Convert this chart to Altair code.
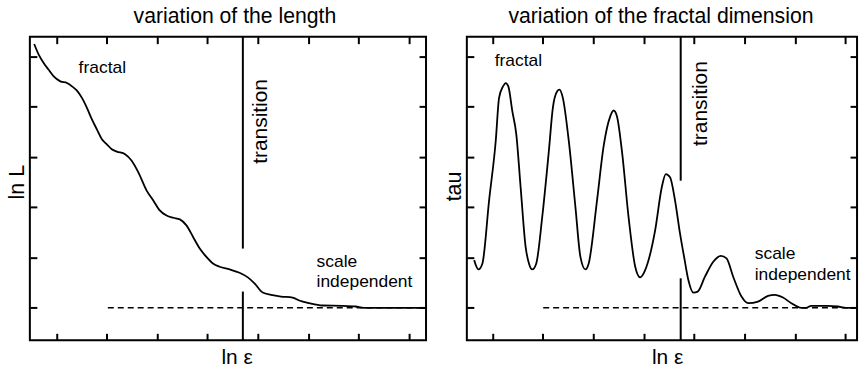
import altair as alt
import pandas as pd

FONT = "Liberation Sans"

# ln L against ln epsilon
len_x = [0.559, 0.651, 0.750, 0.848, 0.947, 1.079, 1.211, 1.310, 1.408, 1.507,
         1.606, 1.705, 1.804, 1.903, 2.001, 2.100, 2.199, 2.364, 2.495, 2.627,
         2.792, 2.924, 3.042, 3.187, 3.319, 3.451, 3.582, 3.714, 3.846, 3.978,
         4.109, 4.241, 4.439, 4.636, 4.801, 4.933, 5.097, 5.262, 5.460, 5.690,
         5.822, 6.020, 6.283, 6.679, 6.942, 7.107, 8.339]
len_y = [5.250, 5.033, 4.868, 4.736, 4.605, 4.506, 4.473, 4.407, 4.321, 4.177,
         3.979, 3.748, 3.551, 3.353, 3.254, 3.155, 3.109, 3.057, 2.925, 2.694,
         2.332, 2.134, 1.950, 1.838, 1.792, 1.759, 1.640, 1.410, 1.179, 1.014,
         0.883, 0.817, 0.764, 0.698, 0.606, 0.487, 0.303, 0.257, 0.224, 0.204,
         0.145, 0.092, 0.046, 0.040, 0.026, 0.000, 0.000]

# tau (local fractal dimension) against ln epsilon
tau_x = [0.638, 0.723, 0.802, 0.934, 1.066, 1.132, 1.211, 1.264, 1.316, 1.395,
         1.474, 1.560, 1.659, 1.725, 1.791, 1.870, 1.988, 2.120, 2.199, 2.285,
         2.331, 2.397, 2.515, 2.647, 2.746, 2.845, 2.910, 3.075, 3.207, 3.339,
         3.404, 3.470, 3.569, 3.701, 3.833, 3.931, 4.030, 4.228, 4.360, 4.439,
         4.524, 4.623, 4.722, 4.808, 4.887, 4.986, 5.071, 5.216, 5.381, 5.532,
         5.644, 5.776, 5.941, 6.072, 6.270, 6.468, 6.600, 6.764, 6.929, 7.126,
         7.225, 7.324, 7.653, 7.851, 8.016, 8.213]
tau_y = [0.949, 0.764, 0.883, 2.134, 3.320, 4.177, 4.407, 4.473, 4.407, 3.913,
         3.452, 2.398, 1.212, 0.883, 0.764, 0.883, 1.805, 3.123, 3.979, 4.308,
         4.341, 4.177, 3.320, 2.003, 1.014, 0.764, 0.883, 2.134, 3.221, 3.814,
         3.926, 3.814, 3.123, 1.805, 0.817, 0.606, 0.751, 1.542, 2.398, 2.661,
         2.596, 2.134, 1.476, 0.982, 0.553, 0.303, 0.323, 0.619, 0.916, 1.034,
         0.982, 0.619, 0.224, 0.092, 0.125, 0.237, 0.257, 0.204, 0.092, 0.000,
         0.000, 0.040, 0.040, 0.026, 0.000, 0.000]

tick_x = [1, 2, 3, 4, 5, 6, 7, 8]
tick_y = [0, 1, 2, 3, 4, 5]
dom_y = [-0.646, 5.395]

len_dom_x = [0.473, 8.339]
tau_dom_x = [0.493, 8.233]

# transition marker: x position, and the gap left open around the curve
len_transition = 4.702
len_gap = [0.323, 1.179]
tau_transition = 4.735
tau_gap = [0.587, 2.53]

# start of the dashed asymptote (scale independent level)
len_dash_start = 2.021
tau_dash_start = 2.008

len_notes = ["fractal", "scale\nindependent"]
len_notes_x = [1.441, 6.165]
len_notes_y = [4.664, 0.817]
tau_notes = ["fractal", "scale\nindependent"]
tau_notes_x = [1.046, 6.204]
tau_notes_y = [4.802, 0.962]

len_rot = (5.19, 2.866)
tau_rot = (5.249, 3.221)


def tick_axis(orient, values):
    return alt.Axis(orient=orient, values=values, domain=False, labels=False,
                    grid=False, ticks=True, tickSize=7, tickWidth=2,
                    tickColor="black", offset=-7, title=None)


def panel(xs, ys, dom_x, trans_x, gap, dash_start, notes, notes_x, notes_y,
          rot, ylabel, ylabel_y, xlabel_x, title, title_dx, width):
    sx = alt.Scale(domain=dom_x, nice=False, zero=False)
    sy = alt.Scale(domain=dom_y, nice=False, zero=False)

    x_axis = alt.Axis(orient="bottom", values=tick_x, domain=False, labels=False,
                      grid=False, ticks=True, tickSize=7, tickWidth=2,
                      tickColor="black", offset=-7, title="ln ε",
                      titleFont=FONT, titleFontSize=21, titleFontWeight="normal",
                      titleColor="black", titleBaseline="alphabetic",
                      titleAlign="center", titleX=xlabel_x, titleY=30.3)
    y_axis = alt.Axis(orient="left", values=tick_y, domain=False, labels=False,
                      grid=False, ticks=True, tickSize=7, tickWidth=2,
                      tickColor="black", offset=-7, title=ylabel,
                      titleFont=FONT, titleFontSize=21.5, titleFontWeight="normal",
                      titleColor="black", titleBaseline="alphabetic",
                      titleAlign="center", titleAngle=270,
                      titleX=-13, titleY=ylabel_y)

    curve = alt.Chart(pd.DataFrame({"x": xs, "y": ys})).mark_line(
        color="black", strokeWidth=1.8, interpolate="monotone"
    ).encode(
        x=alt.X("x:Q", scale=sx, axis=x_axis),
        y=alt.Y("y:Q", scale=sy, axis=y_axis),
    )

    dash = alt.Chart(pd.DataFrame({"x": [dash_start], "x2": [dom_x[1]], "y": [0]})).mark_rule(
        color="black", strokeWidth=1.5, strokeDash=[6, 4]
    ).encode(
        x=alt.X("x:Q", scale=sx, axis=tick_axis("top", tick_x)),
        x2="x2:Q",
        y=alt.Y("y:Q", scale=sy, axis=tick_axis("right", tick_y)),
    )

    trans = alt.Chart(pd.DataFrame({
        "x": [trans_x, trans_x],
        "y": [dom_y[0], gap[1]],
        "y2": [gap[0], dom_y[1]],
    })).mark_rule(color="black", strokeWidth=2).encode(
        x=alt.X("x:Q", scale=sx, axis=None),
        y=alt.Y("y:Q", scale=sy, axis=None),
        y2="y2:Q",
    )

    notes_layer = alt.Chart(pd.DataFrame({"x": notes_x, "y": notes_y, "t": notes})).mark_text(
        font=FONT, fontSize=17.5, align="left", baseline="alphabetic",
        color="black", lineBreak="\n", lineHeight=20.7
    ).encode(
        x=alt.X("x:Q", scale=sx, axis=None),
        y=alt.Y("y:Q", scale=sy, axis=None),
        text="t:N",
    )

    rot_layer = alt.Chart(pd.DataFrame({"x": [rot[0]], "y": [rot[1]], "t": ["transition"]})).mark_text(
        font=FONT, fontSize=21, align="left", baseline="alphabetic",
        color="black", angle=270
    ).encode(
        x=alt.X("x:Q", scale=sx, axis=None),
        y=alt.Y("y:Q", scale=sy, axis=None),
        text="t:N",
    )

    return alt.layer(curve, dash, trans, notes_layer, rot_layer).resolve_axis(
        x="independent", y="independent"
    ).properties(
        width=width, height=305,
        title=alt.TitleParams(title, font=FONT, fontSize=21.3, fontWeight="normal",
                              color="black", baseline="alphabetic", offset=-9,
                              dx=title_dx),
    )


left = panel(len_x, len_y, len_dom_x, len_transition, len_gap, len_dash_start,
             len_notes, len_notes_x, len_notes_y, len_rot,
             "ln L", 145.7, 207.7, "variation of the length", 7, 398)
right = panel(tau_x, tau_y, tau_dom_x, tau_transition, tau_gap, tau_dash_start,
              tau_notes, tau_notes_x, tau_notes_y, tau_rot,
              "tau", 150, 201.2, "variation of the fractal dimension", -1, 392)

chart = alt.hconcat(left, right, spacing=41, bounds="flush").properties(
    padding={"left": 6, "top": 4, "right": 5, "bottom": 0},
    background="white",
).configure_view(stroke="black", strokeWidth=2)

chart.save("out.html", embed_options={"renderer": "svg", "actions": False})
